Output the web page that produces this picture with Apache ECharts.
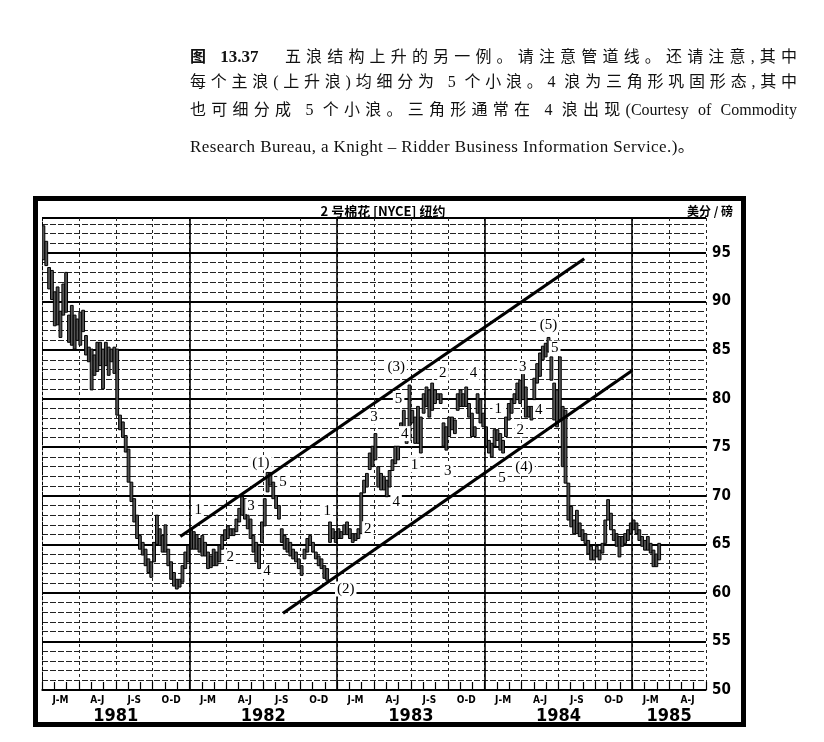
<!DOCTYPE html>
<html>
<head>
<meta charset="utf-8">
<title>图 13.37 2号棉花</title>
<script src="https://cdn.jsdelivr.net/npm/echarts@6/dist/echarts.min.js"></script>
<style>
html, body { margin: 0; padding: 0; background: #fff; }
#wrap { position: relative; width: 824px; height: 742px; overflow: hidden; }
#chart { position: absolute; left: 0; top: 0; width: 824px; height: 742px; }
.ln {
	position: absolute; left: 190px; width: 607px;
	font-size: 16px; line-height: 20px; color: #111;
	font-family: 'Liberation Serif', 'Noto Sans CJK SC', serif;
	text-align: justify; text-align-last: justify;
}
.ln b { font-family: 'Noto Sans CJK SC', sans-serif; }
.ln b.num { font-family: 'Liberation Serif', serif; font-size: 17px; }
.ln.last { text-align-last: left; font-size: 17px; letter-spacing: 0.4px; }
</style>
</head>
<body>
<div id="wrap">
	<div id="chart"></div>
	<div class="ln" style="top:45px"><b>图</b> <b class="num">13.37</b>　五浪结构上升的另一例。请注意管道线。还请注意,其中</div>
	<div class="ln" style="top:72px">每个主浪(上升浪)均细分为 5 个小浪。4 浪为三角形巩固形态,其中</div>
	<div class="ln" style="top:100px">也可细分成 5 个小浪。三角形通常在 4 浪出现(Courtesy of Commodity</div>
	<div class="ln last" style="top:137px">Research Bureau, a Knight – Ridder Business Information Service.)。</div>
</div>
<script>
	// 周线 [最高, 最低], 每年 52 周, 按月分组 (4/4/5)
	var bars1981 = [
		[97.8,94.3],[96.2,93.7],[93.5,91.3],[93.2,90.2],
		[91.0,87.5],[91.5,87.6],[89.0,86.3],[91.8,88.6],
		[93.0,88.9],[88.6,85.8],[89.6,85.5],[88.6,85.1],[88.2,86.0],
		[88.9,85.5],[89.1,86.9],[86.5,84.5],[85.3,83.8],
		[85.1,80.9],[84.5,82.4],[85.8,82.8],[85.8,83.4],
		[85.1,81.0],[85.8,83.4],[85.3,82.4],[85.1,83.8],[85.3,82.6],
		[85.1,78.3],[78.3,76.8],[77.6,76.0],[76.2,74.5],
		[74.8,71.4],[71.4,69.4],[69.7,67.3],[68.0,65.6],
		[65.9,64.5],[65.2,63.9],[64.5,62.8],[63.5,62.1],[63.2,61.6],
		[65.2,63.2],[68.0,65.0],[66.6,64.9],[65.9,64.2],
		[67.0,64.2],[64.5,62.8],[63.2,61.4],[62.1,60.7],
		[61.4,60.4],[61.4,60.6],[62.8,61.1],[64.2,62.5],[64.9,63.2]
	];
	var bars1982 = [
		[66.6,64.5],[66.3,64.5],[66.0,64.5],[65.6,64.2],
		[65.9,63.8],[65.2,63.8],[64.2,62.5],[63.8,62.6],
		[64.5,62.8],[64.2,62.8],[64.9,63.2],[65.9,64.5],[66.5,65.4],
		[66.9,65.6],[66.6,65.9],[66.6,65.9],[67.6,66.3],
		[68.7,67.3],[69.9,68.0],[69.7,67.6],[68.0,66.6],
		[67.6,65.6],[65.9,64.2],[65.2,63.2],[64.9,62.5],[67.3,65.2],
		[69.7,66.9],[72.4,70.4],[72.4,71.1],[71.4,69.7],
		[70.0,68.7],[69.0,67.6],[66.6,65.2],[65.9,64.5],
		[65.6,64.2],[65.2,63.8],[64.5,63.5],[64.2,63.2],[63.5,62.5],
		[62.8,61.8],[64.5,63.5],[65.6,64.2],[65.9,64.9],
		[65.2,64.2],[64.2,63.5],[63.8,62.8],[63.5,62.5],
		[62.8,61.5],[62.5,61.3],[67.3,65.2],[66.6,65.6],[66.3,65.2]
	];
	var bars1983 = [
		[66.6,65.6],[66.3,65.6],[67.0,66.0],[67.3,66.0],
		[66.6,65.6],[66.1,65.2],[66.1,65.4],[66.6,65.6],
		[70.3,66.1],[71.6,70.3],[72.3,70.9],[74.4,72.7],[75.1,73.0],
		[76.4,73.7],[73.0,70.9],[72.3,70.6],[72.0,70.6],
		[71.6,69.9],[72.6,70.9],[73.7,72.6],[75.1,73.3],
		[75.1,73.7],[77.5,75.7],[78.8,77.1],[77.1,75.4],[81.4,75.7],
		[78.8,77.5],[78.1,75.4],[79.2,75.4],[78.1,74.4],
		[80.5,78.5],[81.2,79.2],[80.9,78.1],[81.6,78.8],
		[80.9,79.5],[80.5,79.9],[80.5,79.5],[77.5,75.1],[77.1,74.7],
		[78.1,76.1],[78.1,76.8],[77.8,76.4],[80.5,78.8],
		[80.9,79.2],[80.5,79.2],[81.2,79.2],[79.5,78.1],
		[78.5,76.1],[77.1,76.1],[80.5,78.5],[79.9,77.5],[78.5,77.1]
	];
	var bars1984 = [
		[77.1,75.1],[75.7,74.4],[75.4,74.0],[76.8,75.1],
		[76.8,75.7],[76.4,74.7],[75.7,74.4],[78.1,76.1],
		[79.5,77.8],[79.9,78.5],[80.5,79.5],[81.6,79.9],[81.9,79.5],
		[82.6,79.9],[81.2,78.1],[79.2,78.1],[79.2,77.8],
		[82.1,79.9],[83.6,81.6],[84.7,82.3],[85.4,84.0],
		[85.7,84.3],[86.3,84.8],[84.3,81.9],[81.6,77.8],[80.9,77.1],
		[84.3,77.8],[79.2,73.0],[78.8,71.3],[71.3,67.5],
		[68.9,66.8],[67.5,66.1],[68.5,66.1],[67.2,65.8],
		[66.5,65.4],[66.1,65.1],[65.4,64.0],[64.8,63.4],[64.4,63.4],
		[64.8,63.7],[64.4,63.4],[65.1,64.1],[67.5,65.1],
		[69.6,67.5],[68.2,66.5],[66.5,65.4],[66.1,64.8],
		[65.8,63.7],[65.8,64.8],[66.1,65.1],[66.5,65.4],[67.2,66.1]
	];
	var bars1985 = [
		[67.5,66.5],[67.2,66.1],[66.5,65.4],[65.8,64.8],
		[65.4,64.4],[65.8,64.4],[65.1,64.1],[64.4,62.7],
		[64.0,62.7],[65.1,63.4]
	];

	// 横轴: 1981 年 1 月起的月数
	var monthSpan = 54;
	var weeksPerYear = 52;
	var quarterNames = ['J-M', 'A-J', 'J-S', 'O-D'];
	var yearNames = ['1981', '1982', '1983', '1984', '1985'];
	var yearLabelAt = [6, 18, 30, 42, 51];
	var yearLines = [12, 24, 36, 48];

	// 纵轴 (美分/磅)
	var priceMin = 50, priceMax = 98.6;

	// 管道线 [月, 价格]
	var upperChannel = [[11.25, 65.8], [44.1, 94.4]];
	var lowerChannel = [[19.6, 57.9], [48.0, 82.9]];

	// 波浪标注
	var waveText = ['1','2','3','(1)','5','4','1','(2)','2','4','3','5','(3)','4','1','2','3','4','1','5','2','(4)','3','4','(5)','5'];
	var waveX = [12.7,15.3,17.0,17.8,19.6,18.3,23.2,24.7,26.5,28.8,27.0,29.0,28.8,29.5,30.3,32.6,33.0,35.1,37.1,37.4,38.9,39.2,39.1,40.4,41.2,41.7];
	var waveY = [68.5,63.7,68.9,73.4,71.4,62.2,68.4,60.4,66.6,69.4,78.1,80.0,83.3,76.4,73.2,82.6,72.5,82.6,78.9,71.8,76.8,73.0,83.3,78.8,87.6,85.2];

	var narrow = "'Liberation Sans Narrow', 'DejaVu Sans Condensed', sans-serif";

	function _map(arr, fn) {
		var out = [];
		for (var i = 0; i < arr.length; i++) out.push(fn(arr[i], i));
		return out;
	}

	// 组装周线数据 [月位置, 最高, 最低]
	var allBars = [].concat(bars1981, bars1982, bars1983, bars1984, bars1985);
	var barData = _map(allBars, function(b, i){
		return [(i + 0.5) * 12 / weeksPerYear, b[0], b[1]];
	});
	var waveData = _map(waveText, function(t, i){
		return [waveX[i], waveY[i], i];
	});

	var chart = echarts.init(document.getElementById('chart'), null, { renderer: 'canvas' });

	var option = {
		backgroundColor: '#fff',
		animation: false,
		grid: { left: 42, right: 118, top: 218, bottom: 52 },
		graphic: [
			// 外框
			{ type: 'rect', shape: { x: 35.5, y: 198.5, width: 708, height: 526 },
			  style: { fill: 'none', stroke: '#000', lineWidth: 5 }, z: 100 },
			{ type: 'text', x: 383, y: 211, z: 100,
			  style: { text: '2 号棉花 [NYCE] 纽约', fill: '#000', align: 'center', verticalAlign: 'middle',
			           font: 'bold 13px "Noto Sans CJK SC", sans-serif' } },
			{ type: 'text', x: 710, y: 211, z: 100,
			  style: { text: '美分 / 磅', fill: '#000', align: 'center', verticalAlign: 'middle',
			           font: 'bold 12px "Noto Sans CJK SC", sans-serif' } }
		],
		xAxis: [
			{
				// 月刻度与季度竖线
				type: 'value', position: 'bottom', min: 0, max: monthSpan, interval: 3,
				axisLine: { lineStyle: { color: '#000', width: 1.5 } },
				axisTick: { show: true, inside: true, length: 8, lineStyle: { color: '#000', width: 1.2 } },
				minorTick: { show: true, splitNumber: 3, length: 8, lineStyle: { color: '#000', width: 1.2 } },
				axisLabel: { show: false },
				splitLine: { show: true, lineStyle: { color: '#222', width: 1, type: [3, 3] } }
			},
			{
				// 季度标签
				type: 'value', position: 'bottom', min: 0, max: monthSpan, interval: 1.5,
				axisLine: { show: false }, axisTick: { show: false }, splitLine: { show: false },
				axisLabel: {
					color: '#000', fontWeight: 'bold', fontSize: 10, fontFamily: narrow, margin: 5,
					formatter: function(v){
						var k = Math.round(v / 1.5);
						return k % 2 ? quarterNames[((k - 1) / 2) % 4] : '';
					}
				}
			},
			{
				// 年份标签
				type: 'value', position: 'bottom', min: 0, max: monthSpan, interval: 3,
				axisLine: { show: false }, axisTick: { show: false }, splitLine: { show: false },
				axisLabel: {
					color: '#000', fontWeight: 'bold', fontSize: 18, fontFamily: narrow, margin: 17,
					formatter: function(v){
						var i = yearLabelAt.indexOf(Math.round(v));
						return i > -1 ? yearNames[i] : '';
					}
				}
			}
		],
		yAxis: [
			{
				// 每 1 美分的横线
				type: 'value', min: priceMin, max: priceMax, interval: 1, position: 'right',
				axisLine: { show: false }, axisTick: { show: false }, axisLabel: { show: false },
				splitLine: { show: true, lineStyle: { color: '#222', width: 1, type: [6, 2] } }
			},
			{
				// 每 5 美分的粗线和标签
				type: 'value', min: priceMin, max: priceMax, interval: 5, position: 'right',
				axisLine: { show: true, lineStyle: { color: '#000', width: 1, type: [3, 2] } },
				axisTick: { show: true, length: 4, lineStyle: { color: '#000' } },
				axisLabel: {
					color: '#000', fontWeight: 'bold', fontSize: 15, fontFamily: narrow, margin: 6,
					formatter: function(v){ return v % 5 === 0 ? v : ''; }
				},
				splitLine: { show: true, lineStyle: { color: '#000', width: 1.8 } }
			}
		],
		series: [
			{
				name: '周线',
				type: 'custom',
				xAxisIndex: 0, yAxisIndex: 0,
				clip: true,
				z: 3,
				renderItem: function(params, api){
					var top = api.coord([api.value(0), api.value(1)]),
						bot = api.coord([api.value(0), api.value(2)]);
					return {
						type: 'rect',
						shape: { x: top[0] - 1.4, y: top[1], width: 2.8, height: Math.max(bot[1] - top[1], 1.5) },
						style: { fill: '#555', stroke: '#000', lineWidth: 1 }
					};
				},
				encode: { x: 0, y: [1, 2] },
				data: barData
			},
			{
				name: '上轨',
				type: 'line', xAxisIndex: 0, yAxisIndex: 0,
				symbol: 'none', z: 4,
				lineStyle: { color: '#000', width: 3.2 },
				data: upperChannel,
				// 年份分隔线
				markLine: {
					symbol: 'none', silent: true, label: { show: false },
					lineStyle: { color: '#000', width: 1.6, type: 'solid' },
					data: _map(yearLines, function(v){ return { xAxis: v }; })
				}
			},
			{
				name: '下轨',
				type: 'line', xAxisIndex: 0, yAxisIndex: 0,
				symbol: 'none', z: 4,
				lineStyle: { color: '#000', width: 3.2 },
				data: lowerChannel
			},
			{
				// 波浪编号, 白底盖住网格线
				name: '波浪',
				type: 'custom', xAxisIndex: 0, yAxisIndex: 0,
				z: 6,
				renderItem: function(params, api){
					var p = api.coord([api.value(0), api.value(1)]);
					return {
						type: 'text',
						x: p[0], y: p[1],
						style: {
							text: waveText[api.value(2)],
							fill: '#000',
							font: '15px "Liberation Serif", serif',
							align: 'center', verticalAlign: 'middle',
							backgroundColor: '#fff', padding: [0, 2]
						}
					};
				},
				encode: { x: 0, y: 1 },
				data: waveData
			}
		]
	};

	chart.setOption(option);
</script>
</body>
</html>
